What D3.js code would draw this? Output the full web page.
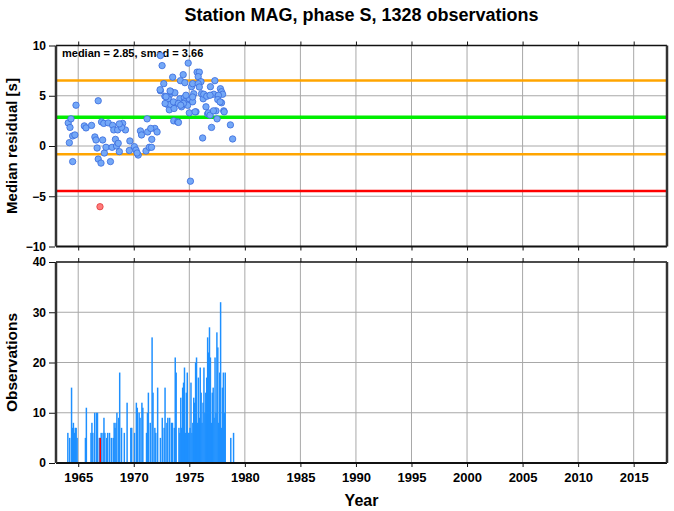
<!DOCTYPE html>
<html><head><meta charset="utf-8">
<script src="https://cdn.jsdelivr.net/npm/d3@7/dist/d3.min.js"></script>
<style>
html,body{margin:0;padding:0;background:#fff;}
svg text{font-family:"Liberation Sans",Arial,Helvetica,sans-serif;font-weight:bold;}
</style></head>
<body><svg id="c" width="674" height="511"></svg>
<script>
const title = "Station MAG, phase S, 1328 observations";
const medianVal = 2.85, smadVal = 3.66;
const xTicks = [1965,1970,1975,1980,1985,1990,1995,2000,2005,2010,2015];
const topTicks = [-10,-5,0,5,10];
const botTicks = [0,10,20,30,40];

// monthly median residuals: decimal year, value (s)
const ptYear = [1964.8,1966.8,1964.1,1964.35,1964.26,1964.5,1964.7,1964.2,1964.5,1965.55,1965.7,1966.2,1966.5,1966.6,1966.7,1966.8,1967.05,1967.2,1967.1,1967.3,1967.35,1967.5,1967.7,1967.9,1968.1,1968.2,1968.35,1968.05,1968.45,1968.6,1968.7,1968.55,1969.0,1969.25,1968.9,1968.7,1969.65,1969.6,1970.05,1970.2,1970.4,1970.3,1970.6,1970.7,1971.2,1971.25,1971.1,1971.4,1971.6,1971.9,1972.1,1972.4,1972.55,1972.4,1972.7,1972.8,1973.0,1973.2,1973.1,1973.5,1973.35,1973.7,1973.6,1973.2,1973.3,1973.6,1973.95,1974.15,1974.2,1974.45,1974.3,1974.6,1974.55,1974.6,1974.8,1974.9,1974.85,1975.0,1975.2,1975.3,1975.0,1975.3,1975.4,1975.7,1975.9,1975.8,1975.6,1976.05,1976.1,1976.25,1976.3,1976.2,1976.5,1976.65,1976.9,1977.0,1977.2,1977.3,1977.4,1977.5,1977.6,1977.8,1977.9,1978.0,1977.9,1978.1,1978.7,1978.9,1975.1,1975.8,1975.9,1972.37,1973.27,1972.9,1974.7,1975.3,1976.57,1976.87,1977.62,1977.56,1972.82,1973.57,1974.02,1974.47,1973.63,1974.23,1977.77,1975.52,1976.72,1976.87,1977.17,1978.14,1974.02,1971.53,1971.62];
const ptValue = [4.06,4.5,2.3,2.7,1.85,1.0,1.1,0.33,-1.55,2.0,1.8,2.05,0.9,0.6,-0.2,-1.3,-1.7,0.6,2.4,2.25,-0.7,-0.13,2.3,-1.55,2.05,1.6,0.66,-0.13,0.0,0.27,-0.56,1.6,2.25,1.6,1.85,2.2,0.5,-0.45,-0.06,-0.4,-0.9,-0.7,1.5,1.1,2.7,1.4,-0.5,-0.13,-0.13,1.75,1.4,9.0,8.0,5.5,6.2,4.95,4.15,5.05,4.7,6.85,5.4,5.3,4.3,3.6,4.15,2.5,2.4,4.7,6.5,7.1,3.9,6.3,4.8,4.4,4.2,8.25,4.05,4.7,5.9,6.2,3.3,4.4,5.2,7.35,7.35,6.9,3.4,6.4,5.2,4.7,5.15,0.8,3.9,3.2,5.9,1.85,5.15,6.5,3.5,2.7,5.0,5.7,5.4,5.15,4.3,3.5,2.1,0.7,-3.5,6.2,5.87,5.6,5.48,4.9,5.05,4.88,4.95,5.05,5.05,4.62,4.23,4.39,4.23,4.23,3.73,4.06,4.39,3.4,3.3,3.07,3.5,3.4,2.35,1.75,0.66];
const outYear = [1966.96];
const outValue = [-6.04];

// monthly observation counts: month index from Jan 1964, count
const obsMonth = [0,2,4,5,6,7,8,9,10,19,20,25,26,27,29,31,32,34,35,36,38,39,40,42,43,45,47,49,50,51,52,53,55,56,58,61,64,68,69,72,74,75,77,78,80,81,85,86,87,89,91,92,94,95,97,100,102,104,105,107,108,110,112,113,115,116,117,120,121,122,123,124,125,126,127,128,129,130,131,132,133,134,135,136,137,138,139,140,141,142,143,144,145,146,147,148,149,150,151,152,153,154,155,156,157,158,159,160,161,162,163,164,165,166,167,168,169,170,176,179];
const obsCount = [6,5,15,7,8,6,7,7,5,5,11,6,8,6,10,10,10,5,5,6,6,9,6,5,6,6,5,5,8,7,8,10,9,18,7,6,12,7,7,6,12,11,10,9,12,11,6,10,14,8,25,14,7,6,15,5,9,7,15,8,9,9,8,8,7,21,18,7,6,13,7,15,16,19,6,14,18,6,6,7,16,6,8,13,12,20,21,8,17,9,19,14,8,12,19,10,14,17,25,22,27,21,8,14,15,9,21,10,26,23,8,18,32,7,15,18,10,18,5,6];
const outMonth = [35];

const svg = d3.select("#c");
const x = d3.scaleLinear().domain([1963, 2018]).range([56, 667]);
const yT = d3.scaleLinear().domain([-10, 10]).range([246.5, 45.5]);
const yB = d3.scaleLinear().domain([0, 40]).range([463, 262]);
const gridCol = "#a8a8a8";

function panel(y, yticksInner) {
  const g = svg.append("g");
  g.selectAll(".vg").data(xTicks).join("line")
    .attr("x1", d => x(d)).attr("x2", d => x(d))
    .attr("y1", y.range()[0]).attr("y2", y.range()[1])
    .attr("stroke", gridCol).attr("stroke-width", 1);
  g.selectAll(".hg").data(yticksInner).join("line")
    .attr("x1", x.range()[0]).attr("x2", x.range()[1])
    .attr("y1", d => y(d)).attr("y2", d => y(d))
    .attr("stroke", gridCol).attr("stroke-width", 1);
  return g;
}

// top panel
panel(yT, [-5, 0, 5]);
const lines = [
  {v: medianVal + smadVal, c: "#ffa500", w: 2.5},
  {v: medianVal, c: "#00ee00", w: 3.5},
  {v: medianVal - smadVal, c: "#ffa500", w: 2.5},
  {v: medianVal - 2 * smadVal, c: "#ff0000", w: 2.5}
];
svg.append("g").selectAll("line").data(lines).join("line")
  .attr("x1", x.range()[0]).attr("x2", x.range()[1])
  .attr("y1", d => yT(d.v)).attr("y2", d => yT(d.v))
  .attr("stroke", d => d.c).attr("stroke-width", d => d.w);

svg.append("text").attr("x", 62).attr("y", 57).attr("font-size", 11)
  .text(`median = ${medianVal.toFixed(2)}, smad = ${smadVal.toFixed(2)}`);

svg.append("g").selectAll("circle").data(ptYear.map((d, i) => [d, ptValue[i]])).join("circle")
  .attr("cx", d => x(d[0])).attr("cy", d => yT(d[1])).attr("r", 3.2)
  .attr("fill", "#74a8f7").attr("stroke", "#3a6bdc").attr("stroke-width", 0.8);
svg.append("g").selectAll("circle").data(outYear.map((d, i) => [d, outValue[i]])).join("circle")
  .attr("cx", d => x(d[0])).attr("cy", d => yT(d[1])).attr("r", 3.2)
  .attr("fill", "#ff7a7a").attr("stroke", "#e03a3a").attr("stroke-width", 0.8);

// bottom panel
panel(yB, [10, 20, 30]);
const monthW = x(1964 + 1 / 12) - x(1964);
svg.append("g").selectAll("rect").data(obsMonth.map((m, i) => [m, obsCount[i]])).join("rect")
  .attr("x", d => x(1964 + d[0] / 12))
  .attr("width", monthW * 1.6)
  .attr("y", d => yB(d[1])).attr("height", d => yB(0) - yB(d[1]))
  .attr("fill", "#1e90ff");
svg.append("g").selectAll("rect").data(obsMonth.map((m, i) => [m, obsCount[i]]).filter(d => outMonth.includes(d[0]))).join("rect")
  .attr("x", d => x(1964 + d[0] / 12))
  .attr("width", monthW * 1.6)
  .attr("y", d => yB(d[1])).attr("height", d => yB(0) - yB(d[1]))
  .attr("fill", "#ff0000");

// frames and axes
function frame(y) {
  const [b, t] = y.range();
  const [l, r] = x.range();
  const g = svg.append("g");
  g.append("line").attr("x1", l).attr("x2", r).attr("y1", t).attr("y2", t).attr("stroke", "#111").attr("stroke-width", 1.5);
  g.append("line").attr("x1", l).attr("x2", r).attr("y1", b).attr("y2", b).attr("stroke", "#111").attr("stroke-width", 2);
  g.append("line").attr("x1", l).attr("x2", l).attr("y1", t).attr("y2", b).attr("stroke", "#333").attr("stroke-width", 2.5);
  g.append("line").attr("x1", r).attr("x2", r).attr("y1", t).attr("y2", b).attr("stroke", "#333").attr("stroke-width", 2.5);
}
frame(yT); frame(yB);

function styleAxis(g, fs) {
  g.select(".domain").remove();
  g.selectAll(".tick line").attr("stroke", "#111").attr("stroke-width", 1);
  g.selectAll(".tick text").attr("fill", "#000").attr("font-size", fs || 12)
    .style("font-family", "'Liberation Sans',Arial,sans-serif").style("font-weight", "bold");
}
svg.append("g").attr("transform", "translate(55,0)")
  .call(d3.axisLeft(yT).tickValues(topTicks).tickSize(6).tickPadding(3)).call(styleAxis);
svg.append("g").attr("transform", "translate(55,0)")
  .call(d3.axisLeft(yB).tickValues(botTicks).tickSize(6).tickPadding(3)).call(styleAxis);
svg.append("g").attr("transform", `translate(0,${yT.range()[1]})`)
  .call(d3.axisTop(x).tickValues(xTicks).tickSize(4).tickFormat("")).call(styleAxis);
svg.append("g").attr("transform", `translate(0,${yT.range()[0]})`)
  .call(d3.axisBottom(x).tickValues(xTicks).tickSize(4).tickFormat("")).call(styleAxis);
svg.append("g").attr("transform", `translate(0,${yB.range()[1]})`)
  .call(d3.axisTop(x).tickValues(xTicks).tickSize(4).tickFormat("")).call(styleAxis);
svg.append("g").attr("transform", `translate(0,${yB.range()[0]})`)
  .call(d3.axisBottom(x).tickValues(xTicks).tickSize(4).tickPadding(6).tickFormat(d3.format("d"))).call(g => styleAxis(g, 13));

// titles
const cx = (x.range()[0] + x.range()[1]) / 2;
svg.append("text").attr("x", cx).attr("y", 21).attr("text-anchor", "middle").attr("font-size", 18).text(title);
svg.append("text").attr("x", cx).attr("y", 506).attr("text-anchor", "middle").attr("font-size", 16).text("Year");
svg.append("text").attr("transform", `translate(17,${(yT.range()[0] + yT.range()[1]) / 2}) rotate(-90)`)
  .attr("text-anchor", "middle").attr("font-size", 15).text("Median residual [s]");
svg.append("text").attr("transform", `translate(17,${(yB.range()[0] + yB.range()[1]) / 2}) rotate(-90)`)
  .attr("text-anchor", "middle").attr("font-size", 15.5).text("Observations");
</script></body></html>
